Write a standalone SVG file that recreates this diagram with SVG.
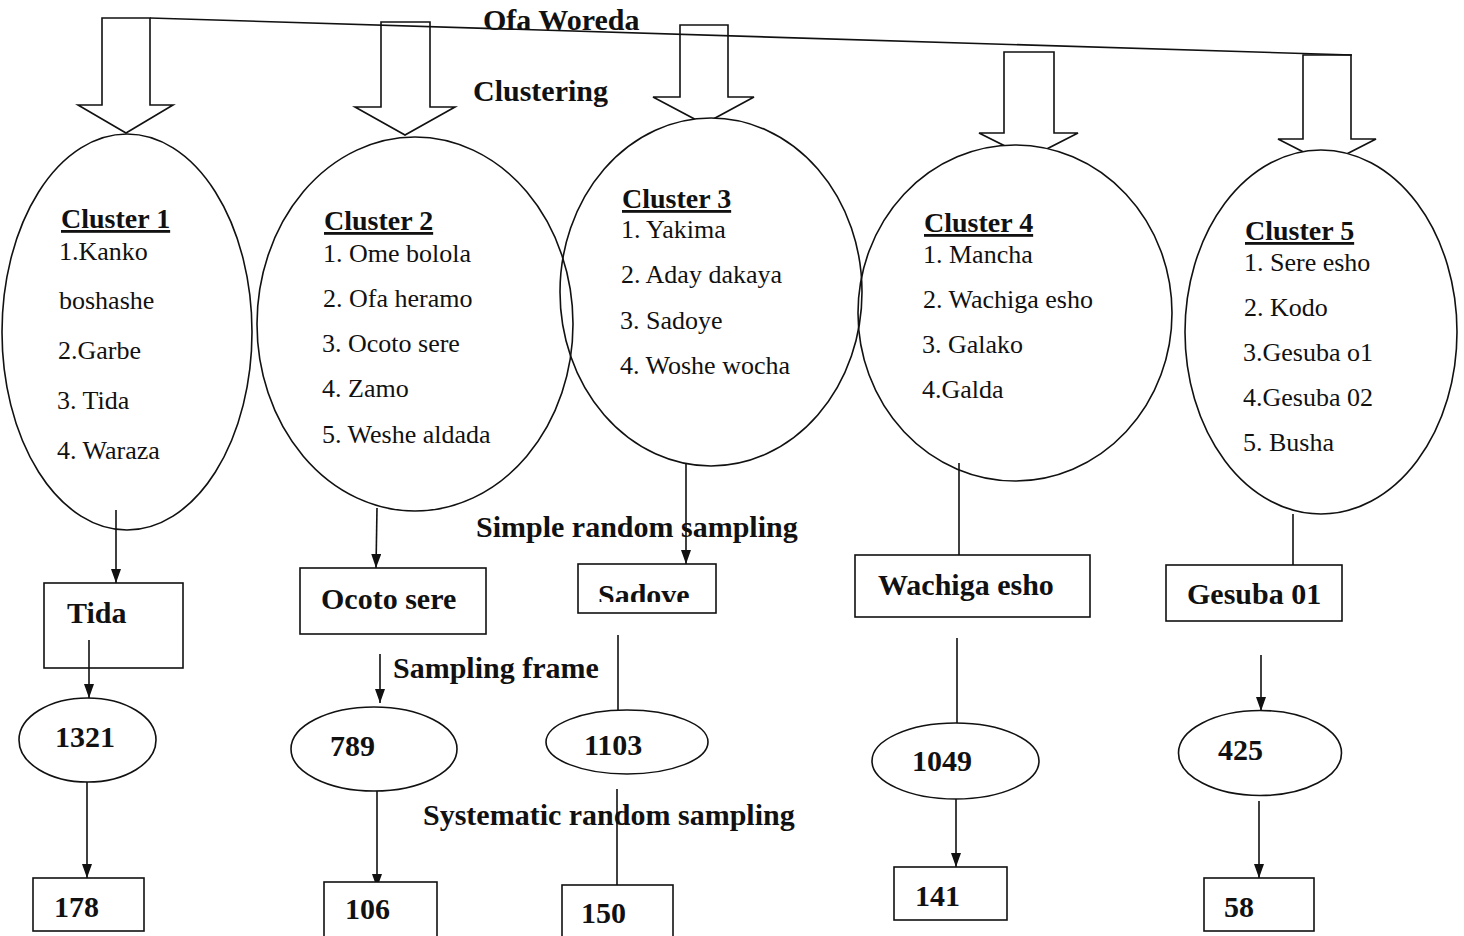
<svg xmlns="http://www.w3.org/2000/svg" width="1464" height="936" viewBox="0 0 1464 936">
<style>
.ln{stroke:#111;stroke-width:1.6;fill:none}
.bx{stroke:#111;stroke-width:1.6;fill:#fff}
.ef{fill:#fff;stroke:none}
.lbl{font-family:"Liberation Serif","Times New Roman",serif;font-weight:bold;font-size:30px;fill:#111}
.hd{font-family:"Liberation Serif","Times New Roman",serif;font-weight:bold;font-size:28px;fill:#111;text-decoration:underline}
.it{font-family:"Liberation Serif","Times New Roman",serif;font-size:26px;fill:#111}
</style>
<defs>
<marker id="ah" markerUnits="userSpaceOnUse" markerWidth="14" markerHeight="10" refX="14" refY="5" orient="auto">
<path d="M0,0 L14,5 L0,10 z" fill="#111"/>
</marker>
<clipPath id="sadclip"><rect x="578" y="564" width="138" height="38"/></clipPath>
</defs>
<rect width="1464" height="936" fill="#fff"/>

<g id="top">
<polygon class="ln" points="102,18 150,18 150,105 173,105 126,133 78,105 102,105"/>
<polygon class="ln" points="381,22 430,22 430,107 455,107 405,135 355,107 381,107"/>
<polygon class="ln" points="680,25 728,25 728,97 754,97 704,124 653,97 680,97"/>
<polygon class="ln" points="1004,52 1054,52 1054,133 1078,133 1029,158 979,133 1004,133"/>
<polygon class="ln" points="1303,55 1351,55 1351,139 1376,139 1327,164 1278,139 1303,139"/>
<line class="ln" x1="150" y1="18" x2="1352" y2="55"/>
<text class="lbl" x="483" y="30">Ofa Woreda</text>
<text class="lbl" x="473" y="101">Clustering</text>
</g>

<g id="ellipse-fills">
<ellipse class="ef" cx="127" cy="332" rx="125" ry="198"/>
<ellipse class="ef" cx="415" cy="324" rx="158" ry="187"/>
<ellipse class="ef" cx="711" cy="292" rx="151" ry="174"/>
<ellipse class="ef" cx="1015" cy="313" rx="157" ry="168"/>
<ellipse class="ef" cx="1321" cy="332" rx="136" ry="182"/>
</g>

<g id="cluster1">
<ellipse class="ln" cx="127" cy="332" rx="125" ry="198"/>
<text class="hd" x="61" y="228">Cluster 1</text>
<text class="it" x="59" y="260">1.Kanko</text>
<text class="it" x="59" y="309">boshashe</text>
<text class="it" x="58" y="359">2.Garbe</text>
<text class="it" x="57" y="409">3. Tida</text>
<text class="it" x="57" y="459">4. Waraza</text>
</g>
<g id="cluster2">
<ellipse class="ln" cx="415" cy="324" rx="158" ry="187"/>
<text class="hd" x="324" y="230">Cluster 2</text>
<text class="it" x="323" y="262">1. Ome bolola</text>
<text class="it" x="323" y="307">2. Ofa heramo</text>
<text class="it" x="322" y="352">3. Ocoto sere</text>
<text class="it" x="322" y="397">4. Zamo</text>
<text class="it" x="322" y="443">5. Weshe aldada</text>
</g>
<g id="cluster3">
<ellipse class="ln" cx="711" cy="292" rx="151" ry="174"/>
<text class="hd" x="622" y="208">Cluster 3</text>
<text class="it" x="621" y="238">1. Yakima</text>
<text class="it" x="621" y="283">2. Aday dakaya</text>
<text class="it" x="620" y="329">3. Sadoye</text>
<text class="it" x="620" y="374">4. Woshe wocha</text>
</g>
<g id="cluster4">
<ellipse class="ln" cx="1015" cy="313" rx="157" ry="168"/>
<text class="hd" x="924" y="232">Cluster 4</text>
<text class="it" x="923" y="263">1. Mancha</text>
<text class="it" x="923" y="308">2. Wachiga esho</text>
<text class="it" x="922" y="353">3. Galako</text>
<text class="it" x="922" y="398">4.Galda</text>
</g>
<g id="cluster5">
<ellipse class="ln" cx="1321" cy="332" rx="136" ry="182"/>
<text class="hd" x="1245" y="240">Cluster 5</text>
<text class="it" x="1244" y="271">1. Sere esho</text>
<text class="it" x="1244" y="316">2. Kodo</text>
<text class="it" x="1243" y="361">3.Gesuba o1</text>
<text class="it" x="1243" y="406">4.Gesuba 02</text>
<text class="it" x="1243" y="451">5. Busha</text>
</g>

<g id="labels">
<text class="lbl" x="476" y="537">Simple random sampling</text>
<text class="lbl" x="393" y="678">Sampling frame</text>
<text class="lbl" x="423" y="825">Systematic random sampling</text>
</g>

<g id="connectors">
<line class="ln" x1="116" y1="510" x2="116" y2="583" marker-end="url(#ah)"/>
<line class="ln" x1="89" y1="640" x2="89" y2="698" marker-end="url(#ah)"/>
<line class="ln" x1="87" y1="782" x2="87" y2="878" marker-end="url(#ah)"/>
<line class="ln" x1="377" y1="508" x2="376" y2="568" marker-end="url(#ah)"/>
<line class="ln" x1="380" y1="654" x2="380" y2="703" marker-end="url(#ah)"/>
<line class="ln" x1="377" y1="791" x2="377" y2="888" marker-end="url(#ah)"/>
<line class="ln" x1="686" y1="463" x2="686" y2="564" marker-end="url(#ah)"/>
<line class="ln" x1="618" y1="635" x2="618" y2="710"/>
<line class="ln" x1="617" y1="789" x2="617" y2="885"/>
<line class="ln" x1="959" y1="463" x2="959" y2="555"/>
<line class="ln" x1="957" y1="638" x2="957" y2="723"/>
<line class="ln" x1="956" y1="799" x2="956" y2="867" marker-end="url(#ah)"/>
<line class="ln" x1="1293" y1="514" x2="1293" y2="565"/>
<line class="ln" x1="1261" y1="655" x2="1261" y2="711" marker-end="url(#ah)"/>
<line class="ln" x1="1259" y1="801" x2="1259" y2="878" marker-end="url(#ah)"/>
</g>

<g id="village-tida">
<rect class="ln" x="44" y="583" width="139" height="85"/>
<text class="lbl" x="67" y="623">Tida</text>
</g>
<g id="village-ocoto">
<rect class="bx" x="300" y="568" width="186" height="66"/>
<text class="lbl" x="321" y="609">Ocoto sere</text>
</g>
<g id="village-sadove">
<rect class="bx" x="578" y="564" width="138" height="49"/>
<text class="lbl" x="598" y="605" clip-path="url(#sadclip)">Sadove</text>
</g>
<g id="village-wachiga">
<rect class="bx" x="855" y="555" width="235" height="62"/>
<text class="lbl" x="878" y="595">Wachiga esho</text>
</g>
<g id="village-gesuba">
<rect class="bx" x="1166" y="565" width="176" height="56"/>
<text class="lbl" x="1187" y="604">Gesuba 01</text>
</g>

<g id="frame-1321">
<ellipse class="bx" cx="87.5" cy="740" rx="68.5" ry="42"/>
<text class="lbl" x="55" y="747">1321</text>
</g>
<g id="frame-789">
<ellipse class="bx" cx="374" cy="749" rx="83" ry="42"/>
<text class="lbl" x="330" y="756">789</text>
</g>
<g id="frame-1103">
<ellipse class="bx" cx="627" cy="742" rx="81" ry="32"/>
<text class="lbl" x="584" y="755">1103</text>
</g>
<g id="frame-1049">
<ellipse class="bx" cx="955.5" cy="761" rx="83.5" ry="38"/>
<text class="lbl" x="912" y="771">1049</text>
</g>
<g id="frame-425">
<ellipse class="bx" cx="1260" cy="753" rx="81.5" ry="42.5"/>
<text class="lbl" x="1218" y="760">425</text>
</g>

<g id="sample-178">
<rect class="bx" x="33" y="878" width="111" height="53"/>
<text class="lbl" x="54" y="917">178</text>
</g>
<g id="sample-106">
<rect class="bx" x="324" y="882" width="113" height="56"/>
<text class="lbl" x="345" y="919">106</text>
</g>
<g id="sample-150">
<rect class="bx" x="562" y="885" width="111" height="60"/>
<text class="lbl" x="581" y="923">150</text>
</g>
<g id="sample-141">
<rect class="bx" x="894" y="867" width="113" height="53"/>
<text class="lbl" x="915" y="906">141</text>
</g>
<g id="sample-58">
<rect class="bx" x="1204" y="878" width="110" height="53"/>
<text class="lbl" x="1224" y="917">58</text>
</g>
</svg>
